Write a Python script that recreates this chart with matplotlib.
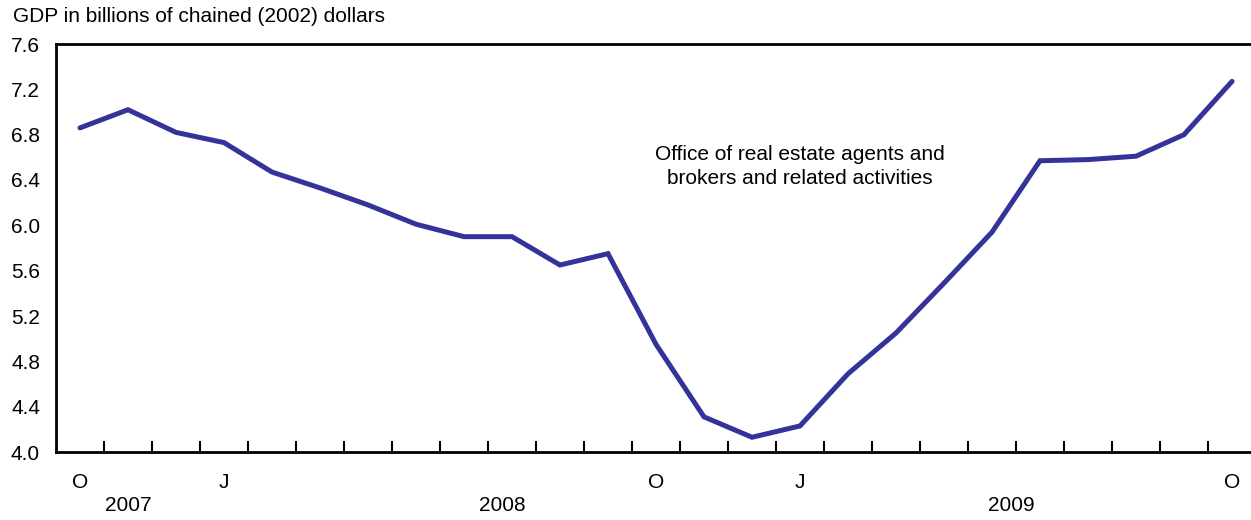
import matplotlib
matplotlib.use('Agg')
import matplotlib.pyplot as plt
import numpy as np

plt.rcParams['font.family'] = ['Liberation Sans', 'DejaVu Sans']

# monthly GDP, Oct 2007 - Oct 2009
gdp = [6.86, 7.02, 6.82, 6.73, 6.47, 6.33, 6.18, 6.01, 5.90, 5.90,
       5.65, 5.75, 4.95, 4.31, 4.13, 4.23, 4.69, 5.05, 5.49, 5.94,
       6.57, 6.58, 6.61, 6.80, 7.27]
month_labels = ['O', 'J', 'O', 'J', 'O']
month_idx = [0, 3, 12, 15, 24]
years = ['2007', '2008', '2009']
year_pos = [1.5, 9.3, 19.9]
y_ticks = [4.0, 4.4, 4.8, 5.2, 5.6, 6.0, 6.4, 6.8, 7.2, 7.6]

fs = 15

fig = plt.figure(figsize=(12.51, 5.2), dpi=100)
ax = fig.add_axes([56 / 1251, 1 - 452 / 520, 1200 / 1251, 408 / 520])

x = np.arange(len(gdp)) + 0.5
ax.plot(x, gdp, color='#333399', lw=3.6, solid_capstyle='round', solid_joinstyle='miter')

ax.set_xlim(0, 25)
ax.set_ylim(4.0, 7.6)
ax.set_yticks(y_ticks)
ax.set_yticklabels(['%.1f' % v for v in y_ticks], fontsize=fs)
ax.tick_params(axis='y', length=0, pad=11.5)

ax.set_xticks(np.arange(1, 25))
ax.set_xticklabels([])
ax.tick_params(axis='x', direction='in', length=8, width=1.5)

for s in ['left', 'bottom', 'top']:
    ax.spines[s].set_linewidth(2)
ax.spines['right'].set_visible(False)

for lab, i in zip(month_labels, month_idx):
    ax.text(i + 0.5, -0.075, lab, transform=ax.get_xaxis_transform(),
            ha='center', va='center', fontsize=fs)
for lab, p in zip(years, year_pos):
    ax.text(p, -0.13, lab, transform=ax.get_xaxis_transform(),
            ha='center', va='center', fontsize=fs)

ax.text(15.5, 6.52, 'Office of real estate agents and\nbrokers and related activities',
        ha='center', va='center', fontsize=fs, linespacing=1.3)

fig.text(13 / 1251, 1 - 17 / 520, 'GDP in billions of chained (2002) dollars',
         ha='left', va='center', fontsize=fs)

fig.savefig('out.png', dpi=100)
